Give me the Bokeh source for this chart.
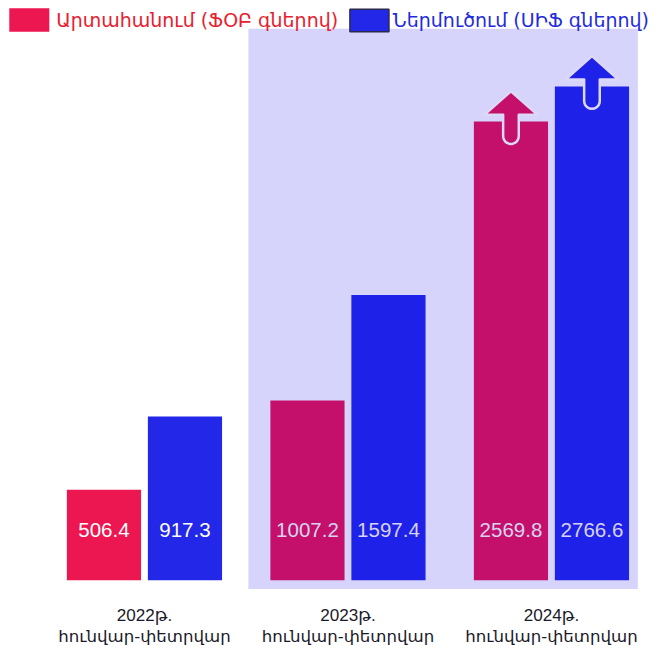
from bokeh.plotting import figure
from bokeh.models import Range1d, ColumnDataSource
from bokeh.core.properties import value
from bokeh.embed import file_html
from bokeh.resources import INLINE
import math

# ---- data ----
periods = ["2022թ.", "2023թ.", "2024թ."]
period_sub = ["հունվար-փետրվար", "հունվար-փետրվար", "հունվար-փետրվար"]
exports = [506.4, 1007.2, 2569.8]
imports = [917.3, 1597.4, 2766.6]
export_name = "Արտահանում (ՖՕԲ գներով)"
import_name = "Ներմուծում (ՍԻՖ գներով)"

# ---- layout helpers (reference pixel space 667x668 mapped onto the figure) ----
W, H = 651, 652
RW, RH = 667, 668
S = W / RW
XG = 208.5          # reference px per group
XC0 = 147.5         # reference px of first group centre
YU = 0.1829         # reference px per value unit
YB = 594.0          # reference px of baseline
FONT = "Liberation Sans, DejaVu Sans, sans-serif"
AFONT = "DejaVu Sans, sans-serif"

def rx(x):
    return (x - XC0) / XG

def ry(y):
    return (YB - y) / YU

def fs(px):
    return f"{px * S:.1f}px"

p = figure(width=W, height=H, output_backend="svg", toolbar_location=None,
           x_range=Range1d(rx(0), rx(RW)), y_range=Range1d(ry(RH), ry(0)),
           min_border=0, outline_line_color=None, background_fill_color="white",
           border_fill_color="white")
p.axis.visible = False
p.grid.visible = False

# lavender panel behind 2023/2024
p.quad(left=[rx(254)], right=[rx(653)], bottom=[ry(603)], top=[ry(29)],
       fill_color="#D6D4FA", line_color=None)

idx = list(range(len(periods)))
off = 41.5 / XG
bw = 76.0 / XG
red_cols = ["#EC1651", "#C4106A", "#C4106A"]
blue_cols = ["#2328E8", "#1E22E8", "#1E22E8"]
lab_cols = ["white", "#D8D2F2", "#D8D2F2"]

src_e = ColumnDataSource(dict(x=[i - off for i in idx], top=exports, c=red_cols,
                              t=[f"{v:.1f}" for v in exports], lc=lab_cols))
src_i = ColumnDataSource(dict(x=[i + off for i in idx], top=imports, c=blue_cols,
                              t=[f"{v:.1f}" for v in imports], lc=lab_cols))

p.vbar(x="x", top="top", bottom=0, width=bw, fill_color="c", line_color=None, source=src_e)
p.vbar(x="x", top="top", bottom=0, width=bw, fill_color="c", line_color=None, source=src_i)

lab_y = ry(543)
for src in (src_e, src_i):
    src.data["ly"] = [lab_y] * len(idx)
    p.text(x="x", y="ly", text="t", text_color="lc", text_align="center",
           text_baseline="middle", text_font_size=fs(21), text_font=value(FONT), source=src)

# growth arrows on the last period
def arrow(cx, top):
    pts = [(0, 31), (27, 7), (8, 7), (8, -15)]
    for k in range(1, 12):
        a = -math.pi * k / 12
        pts.append((8 * math.cos(a), -15 + 8 * math.sin(a)))
    pts += [(-8, -15), (-8, 7), (-27, 7)]
    xs = [cx + dx / XG for dx, dy in pts]
    ys = [top + dy / YU for dx, dy in pts]
    return xs, ys

last = len(idx) - 1
for cx, top, col in [(last - off, exports[last], red_cols[last]),
                     (last + off, imports[last], blue_cols[last])]:
    xs, ys = arrow(cx, top)
    p.patch(xs, ys, fill_color=col, line_color="#DCD8F6", line_width=2.5, line_join="round")

# category labels
p.text(x=idx, y=[ry(630)] * len(idx), text=periods, text_align="center",
       text_baseline="middle", text_font_size=fs(17.5), text_font=value(FONT),
       text_color="#1A1A2A")
p.text(x=idx, y=[ry(652)] * len(idx), text=period_sub, text_align="center",
       text_baseline="middle", text_font_size=fs(17), text_font=value(AFONT),
       text_color="#1A1A2A")

# legend
p.quad(left=[rx(9)], right=[rx(50)], top=[ry(8)], bottom=[ry(32)],
       fill_color="#EC1651", line_color=None)
p.text(x=[rx(57)], y=[ry(20)], text=[export_name], text_align="left",
       text_baseline="middle", text_font_size=fs(19.5), text_font=value(AFONT),
       text_color="#E8202E")
p.quad(left=[rx(358)], right=[rx(398)], top=[ry(9)], bottom=[ry(32)],
       fill_color="#2328E8", line_color="#2A2A4A", line_width=1.5)
p.text(x=[rx(402)], y=[ry(20)], text=[import_name], text_align="left",
       text_baseline="middle", text_font_size=fs(19.5), text_font=value(AFONT),
       text_color="#1F2BE0")

open("out.html", "w").write(file_html(p, INLINE))
